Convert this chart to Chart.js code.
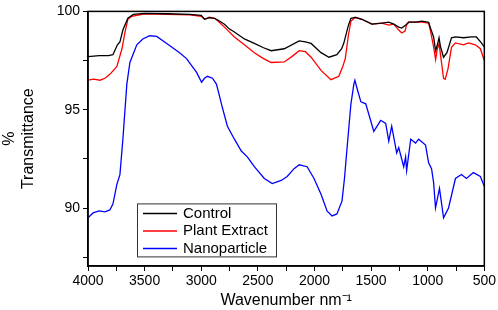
<!DOCTYPE html>
<html>
<head>
<meta charset="utf-8">
<script src="https://cdn.jsdelivr.net/npm/chart.js@4"></script>
<style>
  html, body { margin: 0; padding: 0; background: #fff; }
  #wrap { width: 498px; height: 310px; }
</style>
</head>
<body>
<div id="wrap"><canvas id="ftirChart"></canvas></div>
<script>
// wavenumbers (cm-1 on the axis label as printed) and % transmittance
const controlWn = [4000, 3900, 3820, 3780, 3740, 3718, 3692, 3648, 3600, 3500, 3300, 3100, 3000, 2970, 2930, 2883, 2850, 2795, 2750, 2707, 2619, 2531, 2450, 2382, 2267, 2135, 2080, 2030, 1942, 1872, 1802, 1760, 1740, 1700, 1678, 1640, 1581, 1493, 1406, 1344, 1300, 1256, 1229, 1185, 1168, 1107, 1050, 992, 975, 948, 930, 915, 900, 887, 860, 830, 790, 755, 684, 614, 570, 526, 500];
const controlT = [97.7, 97.75, 97.75, 97.8, 98.3, 98.45, 99.05, 99.65, 99.85, 99.9, 99.88, 99.85, 99.8, 99.6, 99.68, 99.65, 99.55, 99.35, 99.1, 98.95, 98.6, 98.37, 98.15, 98.0, 98.1, 98.5, 98.45, 98.37, 97.9, 97.67, 97.8, 98.1, 98.4, 99.3, 99.65, 99.7, 99.6, 99.35, 99.4, 99.45, 99.35, 99.2, 99.15, 99.35, 99.45, 99.45, 99.5, 99.45, 99.15, 98.7, 98.0, 98.3, 98.66, 98.2, 97.67, 97.9, 98.66, 98.7, 98.66, 98.7, 98.7, 98.4, 98.2];

const plantWn = [4000, 3950, 3894, 3850, 3807, 3745, 3700, 3675, 3648, 3613, 3500, 3300, 3100, 3000, 2970, 2930, 2883, 2850, 2795, 2707, 2619, 2531, 2450, 2382, 2267, 2200, 2135, 2080, 2030, 1942, 1855, 1785, 1750, 1728, 1700, 1678, 1640, 1581, 1493, 1406, 1344, 1300, 1256, 1229, 1200, 1185, 1168, 1107, 1050, 992, 975, 948, 930, 915, 900, 887, 860, 845, 820, 790, 755, 684, 640, 579, 535, 500];
const plantT = [96.5, 96.55, 96.5, 96.6, 96.8, 97.2, 98.1, 98.9, 99.6, 99.75, 99.88, 99.85, 99.82, 99.75, 99.6, 99.7, 99.65, 99.5, 99.2, 98.7, 98.3, 97.9, 97.6, 97.4, 97.43, 97.7, 98.0, 97.95, 97.67, 97.0, 96.53, 96.7, 97.2, 97.6, 98.8, 99.5, 99.7, 99.6, 99.35, 99.4, 99.3, 99.35, 99.05, 98.9, 99.0, 99.35, 99.45, 99.45, 99.45, 99.4, 99.0, 98.2, 97.55, 98.1, 98.35, 97.8, 96.6, 96.55, 97.1, 98.17, 98.4, 98.3, 98.4, 98.3, 98.1, 97.5];

const nanoWn = [4000, 3956, 3900, 3850, 3807, 3780, 3745, 3718, 3692, 3657, 3630, 3569, 3516, 3455, 3393, 3305, 3191, 3130, 3041, 2997, 2971, 2945, 2901, 2866, 2839, 2822, 2769, 2707, 2646, 2593, 2531, 2443, 2373, 2294, 2241, 2180, 2135, 2065, 2004, 1942, 1889, 1845, 1802, 1757, 1735, 1713, 1678, 1652, 1643, 1620, 1590, 1547, 1476, 1415, 1371, 1344, 1318, 1274, 1256, 1212, 1195, 1186, 1150, 1107, 1080, 1019, 992, 966, 948, 931, 896, 860, 816, 755, 702, 658, 597, 535, 500];
const nanoT = [89.5, 89.75, 89.85, 89.8, 89.9, 90.2, 91.2, 91.7, 93.5, 96.3, 97.4, 98.3, 98.6, 98.76, 98.73, 98.37, 97.9, 97.6, 96.9, 96.4, 96.6, 96.7, 96.6, 96.3, 95.7, 95.3, 94.16, 93.5, 92.9, 92.6, 92.1, 91.5, 91.24, 91.4, 91.6, 92.0, 92.2, 92.1, 91.5, 90.7, 89.85, 89.6, 89.7, 90.35, 91.5, 93.0, 95.3, 96.3, 96.5, 96.0, 95.4, 95.3, 93.9, 94.46, 94.3, 93.4, 94.16, 92.8, 93.07, 92.1, 92.6, 91.9, 93.5, 93.3, 93.5, 93.2, 92.3, 92.0, 91.3, 90.0, 91.0, 89.5, 90.0, 91.5, 91.7, 91.5, 91.8, 91.6, 91.1];

const seriesNames = ['Control', 'Plant Extract', 'Nanoparticle'];
const seriesColors = ['#000000', '#ff0000', '#0000ff'];

function toPoints(wn, t) {
  return wn.map((w, i) => ({ x: w, y: t[i] }));
}

// top/right frame lines + boxed legend inside the plot
const framePlugin = {
  id: 'frame',
  afterDraw(chart) {
    const { ctx, chartArea: a } = chart;
    ctx.save();
    ctx.strokeStyle = '#000';
    ctx.lineWidth = 1.5;
    ctx.strokeRect(a.left, a.top, a.right - a.left, a.bottom - a.top);

    const bx = a.left + 49, by = a.top + 192, bw = 139, bh = 53;
    ctx.fillStyle = '#fff';
    ctx.fillRect(bx, by, bw, bh);
    ctx.strokeStyle = '#333';
    ctx.lineWidth = 1;
    ctx.strokeRect(bx + 0.5, by + 0.5, bw, bh);
    ctx.font = '15px "Liberation Sans", Arial, sans-serif';
    ctx.textBaseline = 'middle';
    chart.data.datasets.forEach((ds, i) => {
      const y = by + 10 + i * 17.5;
      ctx.strokeStyle = ds.borderColor;
      ctx.lineWidth = 1.5;
      ctx.beginPath();
      ctx.moveTo(bx + 6, y);
      ctx.lineTo(bx + 40, y);
      ctx.stroke();
      ctx.fillStyle = '#000';
      ctx.fillText(ds.label, bx + 46, y);
    });
    ctx.restore();
  }
};

new Chart(document.getElementById('ftirChart'), {
  type: 'line',
  data: {
    datasets: [
      { label: seriesNames[0], data: toPoints(controlWn, controlT), borderColor: seriesColors[0] },
      { label: seriesNames[1], data: toPoints(plantWn, plantT), borderColor: seriesColors[1] },
      { label: seriesNames[2], data: toPoints(nanoWn, nanoT), borderColor: seriesColors[2] },
    ],
  },
  options: {
    responsive: true,
    maintainAspectRatio: false,
    animation: false,
    layout: { padding: { left: 0, right: 12, top: 6, bottom: 0 } },
    elements: {
      point: { radius: 0 },
      line: { borderWidth: 1.3, tension: 0 },
    },
    plugins: {
      legend: { display: false },
      tooltip: { enabled: false },
    },
    scales: {
      x: {
        type: 'linear',
        reverse: true,
        min: 500,
        max: 4000,
        afterFit: (scale) => { scale.height = 44; },
        border: { color: '#000', width: 1.5 },
        grid: { drawOnChartArea: false, color: '#000', tickLength: 5 },
        ticks: {
          stepSize: 250,
          maxRotation: 0,
          autoSkip: false,
          color: '#000',
          padding: 2,
          font: { family: '"Liberation Sans", Arial, sans-serif', size: 14 },
          callback: (v) => (v % 500 === 0 ? v : ''),
        },
        title: {
          display: true,
          text: 'Wavenumber nm\u207B\u00B9',
          color: '#000',
          padding: { top: 2, bottom: 0 },
          font: { family: '"Liberation Sans", Arial, sans-serif', size: 16 },
        },
      },
      y: {
        min: 87.05,
        max: 100,
        afterFit: (scale) => { scale.width = 88; },
        border: { color: '#000', width: 1.5 },
        grid: { drawOnChartArea: false, color: '#000', tickLength: 5 },
        ticks: {
          stepSize: 2.5,
          includeBounds: false,
          autoSkip: false,
          color: '#000',
          padding: 3,
          font: { family: '"Liberation Sans", Arial, sans-serif', size: 14 },
          callback: (v) => (v % 5 === 0 ? v : ''),
        },
        title: {
          display: true,
          text: ['%', 'Transmittance'],
          color: '#000',
          padding: { top: 0, bottom: 0 },
          font: { family: '"Liberation Sans", Arial, sans-serif', size: 16 },
        },
      },
    },
  },
  plugins: [framePlugin],
});
</script>
</body>
</html>
